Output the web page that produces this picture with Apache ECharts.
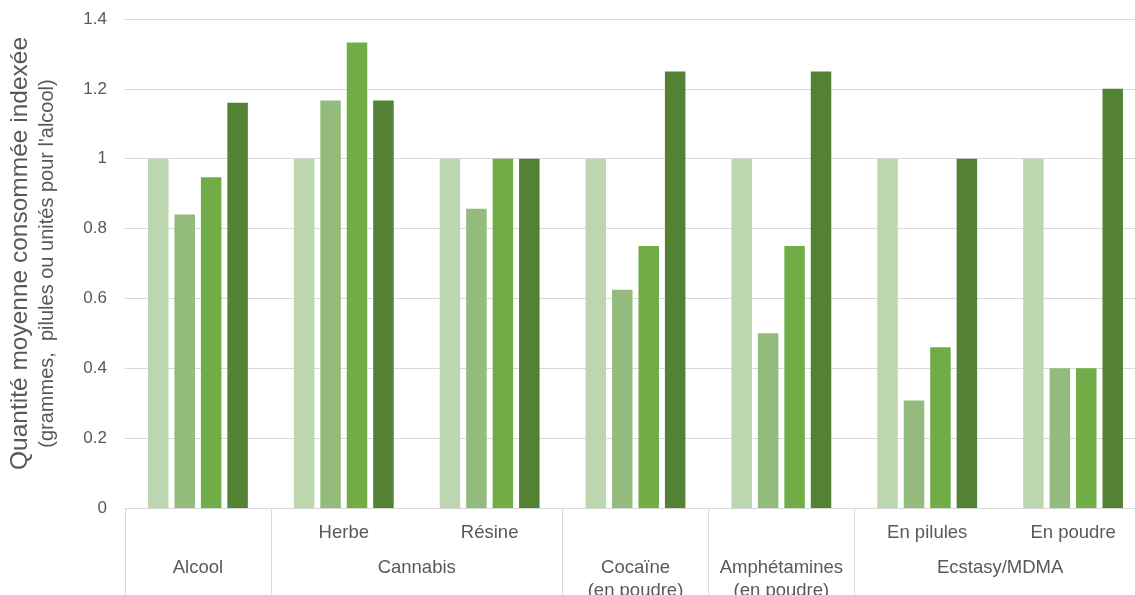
<!DOCTYPE html>
<html>
<head>
<meta charset="utf-8">
<script src="https://cdn.jsdelivr.net/npm/echarts@6/dist/echarts.min.js"></script>
<style>
  html, body { margin: 0; padding: 0; background: #ffffff; overflow: hidden; }
  #chart { width: 1135px; height: 595px; }
</style>
</head>
<body>
<div id="chart"></div>
<script>
// Sub-category labels (one per bar group)
const subLabels = ['', 'Herbe', 'Résine', '', '', 'En pilules', 'En poudre'];
// Product groups and how many bar groups each spans
const groupLabels = ['Alcool', 'Cannabis', 'Cocaïne\n(en poudre)', 'Amphétamines\n(en poudre)', 'Ecstasy/MDMA'];
const groupSizes = [1, 2, 1, 1, 2];

// Four series, indexed quantities
const serie1 = [1, 1, 1, 1, 1, 1, 1];
const serie2 = [0.84, 1.167, 0.857, 0.625, 0.5, 0.308, 0.4];
const serie3 = [0.947, 1.333, 1, 0.75, 0.75, 0.46, 0.4];
const serie4 = [1.16, 1.167, 1, 1.25, 1.25, 1, 1.2];

const yTicks = { min: 0, max: 1.4, interval: 0.2 };

const yTitle = 'Quantité moyenne consommée indexée';
const ySubtitle = '(grammes,  pilules ou unités pour l\'alcool)';

const colors = ['#bcd6b0', '#93bc7c', '#70ad47', '#548235'];
const textColor = '#595959';
const lineColor = '#d9d9d9';
const font = 'Arial, "Liberation Sans", sans-serif';

// Group boundaries and centres on a 0..N scale
const boundaries = [0];
const centres = [];
groupSizes.forEach(function (n) {
  const start = boundaries[boundaries.length - 1];
  centres.push(start + n / 2);
  boundaries.push(start + n);
});
const total = boundaries[boundaries.length - 1];

const chart = echarts.init(document.getElementById('chart'), null, { renderer: 'canvas' });

const seriesData = [serie1, serie2, serie3, serie4];

chart.setOption({
  animation: false,
  backgroundColor: '#ffffff',
  grid: {
    left: 125, top: 19, width: 1021, height: 489,
    containLabel: false,
    outerBoundsMode: 'none'
  },
  xAxis: [
    {
      type: 'category',
      data: subLabels,
      axisLine: { show: true, lineStyle: { color: lineColor, width: 1 } },
      axisTick: { show: false },
      axisLabel: { interval: 0, margin: 15, color: textColor, fontSize: 18.5, fontFamily: font }
    },
    {
      type: 'value',
      min: 0,
      max: total,
      position: 'bottom',
      axisLine: { show: false },
      splitLine: { show: false },
      axisTick: {
        show: true,
        customValues: boundaries,
        length: 95,
        lineStyle: { color: lineColor, width: 1 }
      },
      axisLabel: {
        customValues: centres,
        margin: 48,
        color: textColor,
        fontSize: 18.5,
        fontFamily: font,
        lineHeight: 23,
        formatter: function (v) {
          const i = centres.findIndex(function (c) { return Math.abs(c - v) < 1e-6; });
          return i >= 0 ? groupLabels[i] : '';
        }
      }
    }
  ],
  yAxis: [
    {
      type: 'value',
      min: yTicks.min,
      max: yTicks.max,
      interval: yTicks.interval,
      axisLine: { show: false },
      axisTick: { show: false },
      splitLine: { lineStyle: { color: lineColor, width: 1 } },
      axisLabel: { margin: 18, color: textColor, fontSize: 17, fontFamily: font },
      name: yTitle,
      nameLocation: 'middle',
      nameRotate: 90,
      nameGap: 90,
      nameTextStyle: {
        color: textColor,
        fontFamily: font,
        fontSize: 24.5,
        lineHeight: 30,
        padding: [0, 0, 0, 20]
      }
    },
    {
      type: 'value',
      min: yTicks.min,
      max: yTicks.max,
      interval: yTicks.interval,
      position: 'left',
      axisLine: { show: false },
      axisTick: { show: false },
      axisLabel: { show: false },
      splitLine: { show: false },
      name: ySubtitle,
      nameLocation: 'middle',
      nameRotate: 90,
      nameGap: 66,
      nameTextStyle: {
        color: textColor,
        fontFamily: font,
        fontSize: 20,
        lineHeight: 24
      }
    }
  ],
  series: seriesData.map(function (d, i) {
    return {
      name: 'serie' + (i + 1),
      type: 'bar',
      xAxisIndex: 0,
      yAxisIndex: 0,
      data: d,
      barWidth: 20.5,
      barGap: '29%',
      itemStyle: { color: colors[i] }
    };
  })
});
</script>
</body>
</html>
